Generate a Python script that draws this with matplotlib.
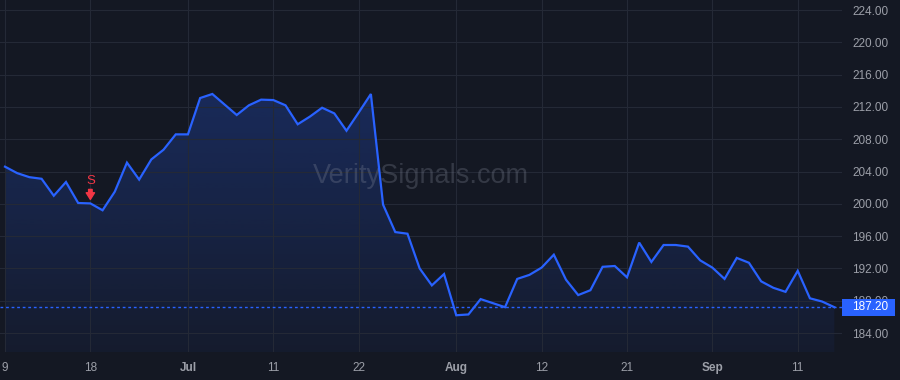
"""
Price chart with a sell signal, in the dark style of the charting widget.
"""
import numpy as np
import matplotlib

matplotlib.use("Agg")
import matplotlib.pyplot as plt
import matplotlib.transforms as mtransforms
from matplotlib.patches import Polygon, Rectangle

# one value per trading session
prices = [
    204.6, 203.8, 203.3, 203.1, 201.0, 202.7, 200.1, 200.05, 199.2, 201.5,
    205.1, 203.0, 205.5, 206.7, 208.6, 208.6, 213.1, 213.6, 212.3, 211.0,
    212.2, 212.9, 212.85, 212.2, 209.85, 210.8, 211.9, 211.2, 209.05, 211.3,
    213.6, 199.9, 196.5, 196.3, 192.0, 189.9, 191.3, 186.2, 186.3, 188.2,
    187.7, 187.2, 190.7, 191.2, 192.1, 193.7, 190.6, 188.7, 189.3, 192.2,
    192.3, 190.9, 195.2, 192.8, 194.9, 194.9, 194.7, 193.0, 192.1, 190.7,
    193.3, 192.7, 190.4, 189.6, 189.1, 191.7, 188.3, 187.9, 187.2,
]

# session index of each date label on the time axis
date_tick_index = [0, 7, 15, 22, 29, 37, 44, 51, 58, 65]
date_tick_labels = ["9", "18", "Jul", "11", "22", "Aug", "12", "21", "Sep", "11"]
month_labels = ["Jul", "Aug", "Sep"]

# signals shown on the chart: (session index, kind)
signals = [(7, "S")]

price_ticks = list(range(184, 225, 4))

BG = "#141823"
GRID = "#242936"
LINE = "#2962ff"
TEXT = "#9c9fa8"
SELL = "#f23645"
W, H = 900, 380


def main():
    """
    Draw the chart and save it to out.png.
    """
    plt.rcParams["font.family"] = ["Liberation Sans", "DejaVu Sans"]

    fig = plt.figure(figsize=(W / 100, H / 100), dpi=100, facecolor=BG)
    ax = fig.add_axes([0, 28 / H, 842 / W, 352 / H], facecolor=BG)

    x = np.arange(len(prices))
    y = np.array(prices)
    ymin, ymax = 181.65, 225.24
    ax.set_xlim(-0.41, 68.63)
    ax.set_ylim(ymin, ymax)

    # gradient area under the line
    grad = np.zeros((256, 1, 4))
    grad[:, 0, :3] = matplotlib.colors.to_rgb(LINE)
    grad[:, 0, 3] = np.linspace(0.05, 0.25, 256)
    im = ax.imshow(
        grad,
        extent=[x[0], x[-1], ymin, y.max()],
        origin="lower",
        aspect="auto",
        zorder=1,
    )
    verts = np.vstack([[x[0], ymin], np.column_stack([x, y]), [x[-1], ymin]])
    clip = Polygon(verts, closed=True, facecolor="none", edgecolor="none")
    ax.add_patch(clip)
    im.set_clip_path(clip)

    ax.plot(x, y, color=LINE, lw=1.6, zorder=3, solid_joinstyle="miter")

    # last price line
    last = prices[-1]
    ax.axhline(last, color=LINE, lw=1, ls=(0, (2, 2)), zorder=2)

    ax.set_yticks(price_ticks)
    ax.set_yticklabels([f"{p:.2f}" for p in price_ticks])
    ax.yaxis.tick_right()
    ax.set_xticks(date_tick_index)
    ax.set_xticklabels(date_tick_labels)
    for lab in ax.get_xticklabels():
        if lab.get_text() in month_labels:
            lab.set_fontweight("bold")
    ax.tick_params(axis="y", length=0, pad=7.2, labelsize=8.5, labelcolor=TEXT)
    ax.tick_params(axis="x", length=0, pad=7, labelsize=8.5, labelcolor=TEXT)
    ax.grid(True, color=GRID, lw=0.8, zorder=0)
    for spine in ax.spines.values():
        spine.set_visible(False)

    ax.text(
        0.5, 0.5, "VeritySignals.com",
        transform=ax.transAxes, ha="center", va="center",
        fontsize=19.5, color="#8a8fa0", alpha=0.28, zorder=2,
    )

    # signal markers: letter with an arrow pointing at the price
    for idx, kind in signals:
        tip = mtransforms.offset_copy(ax.transData, fig=fig, y=4, units="dots")
        tail = mtransforms.offset_copy(ax.transData, fig=fig, y=14, units="dots")
        label = mtransforms.offset_copy(ax.transData, fig=fig, y=22, units="dots")
        ax.annotate(
            "",
            xy=(idx, prices[idx]), xycoords=tip,
            xytext=(idx, prices[idx]), textcoords=tail,
            arrowprops=dict(
                arrowstyle="simple,head_length=0.6,head_width=0.75,tail_width=0.32",
                color=SELL, shrinkA=0, shrinkB=0, mutation_scale=8,
            ),
            zorder=4,
        )
        ax.text(
            idx, prices[idx], kind, transform=label,
            ha="center", va="center", fontsize=9.5, color=SELL, zorder=4,
        )

    # price label box on the right scale
    yc = ax.transData.transform((0, last))[1] / H
    fig.patches.append(
        Rectangle(
            (842 / W, yc - 8.5 / H), 53 / W, 17 / H,
            transform=fig.transFigure, facecolor=LINE, edgecolor="none", zorder=5,
        )
    )
    fig.text(
        852 / W, yc, f"{last:.2f}", ha="left", va="center",
        fontsize=8.5, color="white", zorder=6,
    )

    fig.savefig("out.png", dpi=100, facecolor=BG)


if __name__ == "__main__":
    main()
